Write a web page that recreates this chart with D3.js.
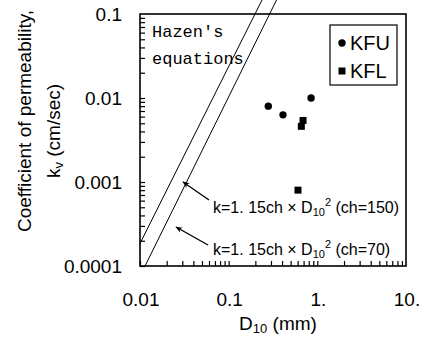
<!DOCTYPE html>
<html lang="en">
<head>
<meta charset="utf-8">
<script src="https://d3js.org/d3.v7.min.js"></script>
<style>
  body { margin: 0; background: #fff; }
  text { font-family: "Liberation Sans", Arial, sans-serif; fill: #000; }
</style>
</head>
<body>
<script>
// data
var kfuD = [0.28, 0.41, 0.85];
var kfuK = [0.0080, 0.0063, 0.0100];
var kflD = [0.69, 0.66, 0.605];
var kflK = [0.0054, 0.0046, 0.0008];

// Hazen lines, end points (D10 mm, k cm/sec)
var hazen150D = [0.01, 0.24];
var hazen150K = [0.000185, 0.15];
var hazen70D = [0.0114, 0.35];
var hazen70K = [0.0001, 0.15];

var xTicks = [0.01, 0.1, 1, 10];
var xTickLabels = ["0.01", "0.1", "1.", "10."];
var yTicks = [0.0001, 0.001, 0.01, 0.1];
var yTickLabels = ["0.0001", "0.001", "0.01", "0.1"];

var W = 423, H = 340;
var pLeft = 140, pRight = 406, pTop = 14, pBottom = 266;

var svg = d3.select("body").append("svg")
    .attr("width", W)
    .attr("height", H);

svg.append("rect").attr("width", W).attr("height", H).attr("fill", "#fff");

var x = d3.scaleLog().domain([0.01, 10]).range([pLeft, pRight]);
var y = d3.scaleLog().domain([0.0001, 0.1]).range([pBottom, pTop]);

// minor + major ticks, pointing inward
function minors(lo, hi) {
    var out = [];
    for (var e = lo; e < hi; e++) {
        for (var m = 1; m <= 9; m++) out.push(m * Math.pow(10, e));
    }
    return out;
}

var xa = svg.append("g")
    .attr("transform", "translate(0," + pBottom + ")")
    .call(d3.axisBottom(x).tickValues(minors(-2, 1)).tickSize(-5).tickFormat(""));
xa.select(".domain").remove();
xa.selectAll("line").attr("stroke", "#000").attr("stroke-width", 1.2);

var ya = svg.append("g")
    .attr("transform", "translate(" + pLeft + ",0)")
    .call(d3.axisLeft(y).tickValues(minors(-4, -1)).tickSize(-5).tickFormat(""));
ya.select(".domain").remove();
ya.selectAll("line").attr("stroke", "#000").attr("stroke-width", 1.2);

// tick labels
svg.append("g").selectAll("text")
    .data(xTicks)
    .enter().append("text")
    .attr("x", function (d) { return x(d) + 1; })
    .attr("y", pBottom + 40)
    .attr("text-anchor", "middle")
    .style("font-size", "19px")
    .text(function (d, i) { return xTickLabels[i]; });

svg.append("g").selectAll("text")
    .data(yTicks)
    .enter().append("text")
    .attr("x", 122)
    .attr("y", function (d) { return y(d) + 7; })
    .attr("text-anchor", "end")
    .style("font-size", "19px")
    .text(function (d, i) { return yTickLabels[i]; });

// Hazen lines (not clipped, they run past the top of the frame)
function hazen(ds, ks) {
    svg.append("line")
        .attr("x1", x(ds[0])).attr("y1", y(ks[0]))
        .attr("x2", x(ds[1])).attr("y2", y(ks[1]))
        .attr("stroke", "#000").attr("stroke-width", 1);
}
hazen(hazen150D, hazen150K);
hazen(hazen70D, hazen70K);

// frame
svg.append("rect")
    .attr("x", pLeft).attr("y", pTop)
    .attr("width", pRight - pLeft).attr("height", pBottom - pTop)
    .attr("fill", "none").attr("stroke", "#000").attr("stroke-width", 1.6);

// points
svg.append("g").selectAll("circle")
    .data(kfuD)
    .enter().append("circle")
    .attr("cx", function (d) { return x(d); })
    .attr("cy", function (d, i) { return y(kfuK[i]); })
    .attr("r", 3.7)
    .attr("fill", "#000");

svg.append("g").selectAll("rect")
    .data(kflD)
    .enter().append("rect")
    .attr("x", function (d) { return x(d) - 3.5; })
    .attr("y", function (d, i) { return y(kflK[i]) - 3.5; })
    .attr("width", 7).attr("height", 7)
    .attr("fill", "#000");

// Hazen's equations label
var mono = svg.append("text")
    .style("font-family", "'Liberation Mono', 'DejaVu Sans Mono', monospace")
    .style("font-size", "17px");
mono.append("tspan").attr("x", 152).attr("y", 37).text("Hazen's");
mono.append("tspan").attr("x", 152).attr("y", 64).text("equations");

// legend
svg.append("rect")
    .attr("x", 330).attr("y", 25).attr("width", 67).attr("height", 60)
    .attr("fill", "#fff").attr("stroke", "#000").attr("stroke-width", 1.2);
svg.append("circle").attr("cx", 342).attr("cy", 43).attr("r", 3.7).attr("fill", "#000");
svg.append("text").attr("x", 350).attr("y", 50).style("font-size", "20px").text("KFU");
svg.append("rect").attr("x", 338.5).attr("y", 67.5).attr("width", 7).attr("height", 7).attr("fill", "#000");
svg.append("text").attr("x", 350).attr("y", 78).style("font-size", "20px").text("KFL");

// equation labels with arrows
svg.append("defs").append("marker")
    .attr("id", "arr")
    .attr("viewBox", "0 0 10 10")
    .attr("refX", 9).attr("refY", 5)
    .attr("markerWidth", 9).attr("markerHeight", 7)
    .attr("markerUnits", "userSpaceOnUse")
    .attr("orient", "auto")
    .append("path").attr("d", "M0,1 L10,5 L0,9 L3,5 Z").attr("fill", "#000");

function eq(yy, ch) {
    var t = svg.append("text")
        .attr("x", 213).attr("y", yy)
        .style("font-size", "16px");
    t.append("tspan").text("k=1. 15ch \u00d7 D");
    t.append("tspan").attr("dy", 3).style("font-size", "11px").text("10");
    t.append("tspan").attr("dy", -10).style("font-size", "11px").text("2");
    t.append("tspan").attr("dy", 7).text(" (ch=" + ch + ")");
}
eq(213, 150);
eq(255, 70);

svg.append("line")
    .attr("x1", 209).attr("y1", 200).attr("x2", 183).attr("y2", 182)
    .attr("stroke", "#000").attr("stroke-width", 1.4).attr("marker-end", "url(#arr)");
svg.append("line")
    .attr("x1", 208).attr("y1", 245).attr("x2", 176).attr("y2", 227)
    .attr("stroke", "#000").attr("stroke-width", 1.4).attr("marker-end", "url(#arr)");

// axis titles
svg.append("text")
    .attr("x", 278).attr("y", 330)
    .attr("text-anchor", "middle")
    .style("font-size", "19px")
    .call(function (t) {
        t.append("tspan").text("D");
        t.append("tspan").attr("dy", 3).style("font-size", "13px").text("10");
        t.append("tspan").attr("dy", -3).text(" (mm)");
    });

svg.append("text")
    .attr("transform", "translate(31,121) rotate(-90)")
    .attr("text-anchor", "middle")
    .style("font-size", "19px")
    .text("Coefficient of permeability,");

svg.append("text")
    .attr("transform", "translate(60,131) rotate(-90)")
    .attr("text-anchor", "middle")
    .style("font-size", "19px")
    .call(function (t) {
        t.append("tspan").text("k");
        t.append("tspan").attr("dy", 3).style("font-size", "13px").text("v");
        t.append("tspan").attr("dy", -3).text(" (cm/sec)");
    });
</script>
</body>
</html>
